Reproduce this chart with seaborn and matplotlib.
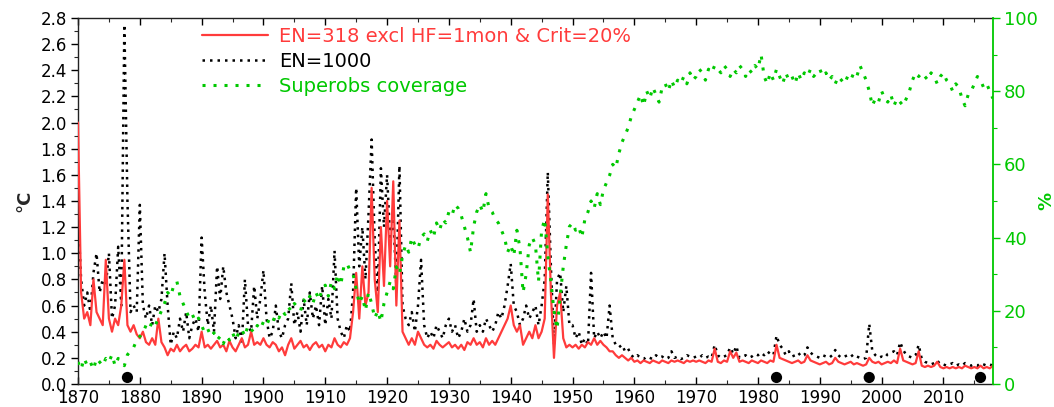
import numpy as np
import pandas as pd
import matplotlib
matplotlib.use("Agg")
import matplotlib.pyplot as plt
import seaborn as sns

# ---------------- data (semi-annual estimates) ----------------
start_year = 1870.0
step = 0.5

en318 = [
    # 1870s
    2.0, 0.7, 0.5, 0.55, 0.45, 0.8, 0.55, 0.5, 0.45, 0.95, 0.5, 0.4, 0.5, 0.45, 0.6, 0.95, 0.45, 0.4, 0.45, 0.38,
    # 1880s
    0.35, 0.4, 0.32, 0.3, 0.35, 0.3, 0.5, 0.32, 0.28, 0.22, 0.27, 0.25, 0.3, 0.25, 0.28, 0.3, 0.25, 0.27, 0.3, 0.28,
    # 1890s
    0.4, 0.28, 0.3, 0.27, 0.3, 0.33, 0.28, 0.3, 0.25, 0.33, 0.28, 0.25, 0.3, 0.35, 0.28, 0.3, 0.4, 0.3, 0.32, 0.3,
    # 1900s
    0.35, 0.3, 0.28, 0.32, 0.3, 0.25, 0.28, 0.22, 0.3, 0.35, 0.27, 0.3, 0.33, 0.28, 0.3, 0.26, 0.3, 0.32, 0.28, 0.3,
    # 1910s
    0.25, 0.3, 0.28, 0.35, 0.3, 0.28, 0.32, 0.3, 0.35, 0.55, 0.85, 0.5, 0.9, 0.6, 0.7, 1.5, 0.8, 0.55, 1.2, 0.75,
    # 1920s
    1.4, 0.9, 1.55, 0.6, 1.25, 0.4, 0.35, 0.3, 0.35, 0.3, 0.4, 0.35, 0.3, 0.28, 0.3, 0.27, 0.33, 0.3, 0.28, 0.3,
    # 1930s
    0.32, 0.28, 0.3, 0.27, 0.3, 0.26, 0.32, 0.3, 0.35, 0.3, 0.32, 0.28, 0.35, 0.3, 0.33, 0.3, 0.35, 0.4, 0.45, 0.5,
    # 1940s
    0.6, 0.45, 0.4, 0.45, 0.3, 0.35, 0.4, 0.35, 0.45, 0.35, 0.4, 0.5, 1.45, 0.7, 0.2, 0.6, 0.7, 0.35, 0.28, 0.3,
    # 1950s
    0.28, 0.3, 0.27, 0.3, 0.28, 0.32, 0.3, 0.35, 0.3, 0.33, 0.3, 0.28, 0.25, 0.25, 0.22, 0.2, 0.22, 0.2, 0.18, 0.2,
    # 1960s
    0.17, 0.18, 0.16, 0.18, 0.17, 0.16, 0.18, 0.17, 0.16, 0.18, 0.17, 0.16, 0.18, 0.17, 0.18, 0.17, 0.16, 0.18, 0.17, 0.18,
    # 1970s
    0.17, 0.18, 0.17, 0.16, 0.18, 0.17, 0.27, 0.17, 0.16, 0.18, 0.17, 0.25, 0.2, 0.24, 0.17, 0.18, 0.17, 0.16, 0.18, 0.17,
    # 1980s
    0.16, 0.18, 0.17, 0.16, 0.18, 0.17, 0.3, 0.2, 0.19, 0.18, 0.17, 0.16, 0.17, 0.18, 0.16, 0.17, 0.22, 0.18, 0.17, 0.16,
    # 1990s
    0.15, 0.16, 0.17, 0.15, 0.16, 0.2, 0.17, 0.16, 0.15, 0.16, 0.17, 0.15, 0.16, 0.15, 0.14, 0.15, 0.2, 0.17, 0.16, 0.17,
    # 2000s
    0.15, 0.16, 0.17, 0.16, 0.18, 0.16, 0.27, 0.18, 0.17, 0.16, 0.15, 0.16, 0.25, 0.14, 0.13, 0.14, 0.13, 0.14, 0.17, 0.13,
    # 2010-2018
    0.12, 0.13, 0.12, 0.13, 0.12, 0.13, 0.12, 0.14, 0.13, 0.12, 0.13, 0.12, 0.14, 0.12, 0.13, 0.12, 0.14,
]

en1000 = [
    # 1870s
    1.3, 0.8, 0.6, 0.7, 0.55, 0.85, 1.0, 0.7, 0.8, 0.75, 1.0, 0.5, 0.6, 1.05, 0.6, 2.75, 1.4, 0.55, 0.6, 0.55,
    # 1880s
    1.37, 0.6, 0.5, 0.6, 0.45, 0.6, 0.55, 0.65, 1.0, 0.6, 0.3, 0.4, 0.35, 0.5, 0.4, 0.55, 0.35, 0.45, 0.5, 0.4,
    # 1890s
    1.12, 0.7, 0.45, 0.6, 0.4, 0.9, 0.65, 0.9, 0.7, 0.6, 0.5, 0.35, 0.45, 0.3, 0.8, 0.45, 0.4, 0.75, 0.5, 0.65,
    # 1900s
    0.87, 0.5, 0.35, 0.4, 0.6, 0.4, 0.35, 0.45, 0.5, 0.77, 0.45, 0.55, 0.4, 0.65, 0.45, 0.7, 0.5, 0.6, 0.45, 0.75,
    # 1910s
    0.45, 0.65, 0.5, 1.02, 0.5, 0.4, 0.35, 0.45, 0.4, 0.7, 1.5, 0.9, 1.2, 0.8, 1.3, 1.87, 1.1, 0.7, 1.65, 1.2,
    # 1920s
    1.6, 1.1, 1.3, 0.75, 1.67, 0.6, 0.5, 0.45, 0.55, 0.4, 0.6, 0.95, 0.45, 0.35, 0.4, 0.35, 0.45, 0.4, 0.35, 0.45,
    # 1930s
    0.5, 0.4, 0.45, 0.35, 0.4, 0.5, 0.4, 0.45, 0.65, 0.4, 0.45, 0.4, 0.5, 0.45, 0.4, 0.45, 0.55, 0.5, 0.6, 0.75,
    # 1940s
    0.92, 0.6, 0.55, 0.45, 0.5, 0.6, 0.5, 0.55, 0.6, 0.45, 0.6, 0.8, 1.62, 0.9, 0.3, 0.8, 0.85, 0.55, 0.75, 0.45,
    # 1950s
    0.45, 0.35, 0.4, 0.3, 0.35, 0.3, 0.85, 0.35, 0.4, 0.35, 0.4, 0.35, 0.6, 0.35, 0.3, 0.28, 0.3, 0.25, 0.27, 0.22,
    # 1960s
    0.2, 0.22, 0.2, 0.19, 0.21, 0.2, 0.19, 0.22, 0.2, 0.21, 0.19, 0.2, 0.25, 0.2, 0.21, 0.19, 0.2, 0.22, 0.21, 0.2,
    # 1970s
    0.21, 0.2, 0.22, 0.2, 0.21, 0.2, 0.3, 0.22, 0.2, 0.21, 0.22, 0.28, 0.23, 0.29, 0.2, 0.21, 0.22, 0.2, 0.21, 0.23,
    # 1980s
    0.22, 0.24, 0.22, 0.25, 0.23, 0.22, 0.37, 0.3, 0.27, 0.22, 0.25, 0.21, 0.22, 0.24, 0.21, 0.22, 0.28, 0.24, 0.22, 0.21,
    # 1990s
    0.2, 0.22, 0.21, 0.2, 0.22, 0.26, 0.22, 0.2, 0.21, 0.22, 0.23, 0.2, 0.21, 0.2, 0.19, 0.2, 0.46, 0.25, 0.22, 0.2,
    # 2000s
    0.21, 0.2, 0.23, 0.24, 0.25, 0.22, 0.32, 0.26, 0.22, 0.21, 0.2, 0.22, 0.3, 0.19, 0.17, 0.16, 0.15, 0.16, 0.18, 0.15,
    # 2010-2018
    0.15, 0.14, 0.15, 0.16, 0.14, 0.15, 0.14, 0.16, 0.15, 0.14, 0.15, 0.14, 0.16, 0.15, 0.14, 0.15, 0.14,
]

coverage = [
    # 1870s
    6, 4, 7, 5, 6, 4, 7, 6, 5, 7, 6, 8, 5, 7, 6, 5, 8, 9, 10, 12,
    # 1880s
    13, 14, 16, 15, 17, 16, 18, 20, 22, 25, 24, 27, 28, 24, 22, 20, 18, 19, 17, 18,
    # 1890s
    16, 14, 15, 13, 14, 12, 13, 11, 13, 12, 14, 12, 14, 15, 13, 16, 15, 14, 16, 15,
    # 1900s
    17, 16, 18, 17, 19, 18, 20, 19, 21, 20, 22, 21, 20, 23, 22, 24, 22, 25, 23, 26,
    # 1910s
    27, 24, 28, 26, 30, 27, 32, 33, 31, 30, 26, 22, 24, 20, 25, 22, 18, 20, 17, 22,
    # 1920s
    25, 28, 26, 32, 30, 35, 38, 36, 40, 38, 37, 40, 41, 39, 42, 40, 44, 42, 45, 44,
    # 1930s
    47, 46, 49, 48, 46, 43, 40, 36, 43, 47, 49, 47, 52, 48, 47, 45, 44, 42, 40, 36,
    # 1940s
    38, 35, 42, 37, 25, 30, 38, 40, 38, 28, 42, 45, 35, 28, 20, 15, 24, 32, 38, 43,
    # 1950s
    44, 42, 43, 40, 45, 47, 50, 48, 52, 49, 53, 55, 57, 60, 59, 63, 66, 68, 70, 73,
    # 1960s
    75, 77, 79, 76, 80, 78, 81, 79, 77, 81, 82, 80, 83, 81, 83, 82, 84, 82, 85, 83,
    # 1970s
    84, 86, 85, 83, 86, 85, 87, 86, 85, 87, 86, 84, 86, 85, 87, 86, 84, 86, 85, 87,
    # 1980s
    86, 90, 84, 82, 85, 83, 86, 84, 82, 85, 83, 84, 82, 85, 83, 85, 84, 86, 84, 85,
    # 1990s
    86, 84, 85, 83, 84, 82, 84, 83, 82, 84, 83, 85, 84, 87, 85, 83, 80, 76, 78, 77,
    # 2000s
    80, 78, 77, 79, 76, 78, 77, 76, 78, 80, 83, 85, 84, 85, 84, 83, 85, 84, 82, 84,
    # 2010-2018
    85, 83, 82, 80, 82, 81, 78, 76, 79, 80, 82, 84, 83, 81, 82, 80, 78,
]

event_years = [1878, 1983, 1998, 2016]
event_level = [0.05, 0.05, 0.05, 0.05]

label_red = "EN=318 excl HF=1mon & Crit=20%"
label_black = "EN=1000"
label_green = "Superobs coverage"

RED = "#ff3b3b"
GREEN = "#00c800"

years = start_year + step * np.arange(len(en318))
df = pd.DataFrame({"year": years, "en318": en318, "en1000": en1000, "cov": coverage})
ev = pd.DataFrame({"year": event_years, "lvl": event_level})

# ---------------- plotting ----------------
sns.set_theme(style="ticks")
plt.rcParams["font.family"] = ["DejaVu Sans"]

fig = plt.figure(figsize=(10.54, 4.07), dpi=100)
ax = fig.add_axes([0.074, 0.0565, 0.868, 0.8995])
ax2 = ax.twinx()

sns.lineplot(data=df, x="year", y="en1000", ax=ax, color="black", lw=1.8,
             linestyle=(0, (1, 2.0)), label=label_black, legend=False, zorder=2)
sns.lineplot(data=df, x="year", y="en318", ax=ax, color=RED, lw=1.6,
             label=label_red, legend=False, zorder=3)
sns.scatterplot(data=ev, x="year", y="lvl", ax=ax, color="black", s=65,
                edgecolor="none", legend=False, zorder=5, clip_on=False)
sns.lineplot(data=df, x="year", y="cov", ax=ax2, color=GREEN, lw=2.2,
             linestyle=(0, (1, 2.6)), label=label_green, legend=False, zorder=2)

ax.set_xlim(1870, 2018)
ax.set_ylim(0, 2.8)
ax2.set_ylim(0, 100)

ax.set_xticks(np.arange(1870, 2011, 10))
ax.set_xticks(np.arange(1870, 2019, 5), minor=True)
ax.set_yticks(np.arange(0, 2.81, 0.2))
ax.set_yticklabels([f"{v:.1f}" for v in np.arange(0, 2.81, 0.2)])
ax.set_yticks(np.arange(0, 2.81, 0.1), minor=True)
ax2.set_yticks(np.arange(0, 101, 20))
ax2.set_yticks(np.arange(0, 101, 10), minor=True)

ax.tick_params(axis="y", which="major", labelsize=12, length=5, width=1, direction="out",
               colors="black", pad=3)
ax.tick_params(axis="y", which="minor", length=3, width=0.8, direction="out")
ax.tick_params(axis="x", which="major", labelsize=12, length=5, width=1, direction="in",
               colors="black", pad=3.5, top=True)
ax.tick_params(axis="x", which="minor", length=3, width=0.8, direction="in", top=True)
ax.tick_params(axis="y", right=False, which="both")
ax2.tick_params(axis="y", which="major", labelsize=13, length=5, width=1, direction="out",
                colors=GREEN, labelcolor=GREEN, pad=3)
ax2.tick_params(axis="y", which="minor", length=3, width=0.8, direction="out", colors=GREEN)

for s in ["left", "bottom", "top"]:
    ax.spines[s].set_color("#222222")
    ax.spines[s].set_linewidth(1.0)
ax2.spines["right"].set_color(GREEN)
ax2.spines["right"].set_linewidth(1.3)
for s in ["left", "bottom", "top"]:
    ax2.spines[s].set_visible(False)
ax.spines["right"].set_visible(False)

ax.set_xlabel("")
ax.set_ylabel("°C", fontsize=13, fontweight="bold", labelpad=5)
ax2.set_ylabel("%", fontsize=13, fontweight="bold", color=GREEN, labelpad=0)

h1, l1 = ax.get_legend_handles_labels()
h2, l2 = ax2.get_legend_handles_labels()
handles = [h1[l1.index(label_red)], h1[l1.index(label_black)], h2[l2.index(label_green)]]
labels = [label_red, label_black, label_green]
leg = ax2.legend(handles, labels, loc="upper left", bbox_to_anchor=(0.1355, 0.975),
                 frameon=False, fontsize=14, handlelength=3.4, handletextpad=0.55,
                 labelspacing=0.3, borderpad=0, borderaxespad=0)
for txt, c in zip(leg.get_texts(), [RED, "black", GREEN]):
    txt.set_color(c)

fig.savefig("out.png", dpi=100, facecolor="white")
